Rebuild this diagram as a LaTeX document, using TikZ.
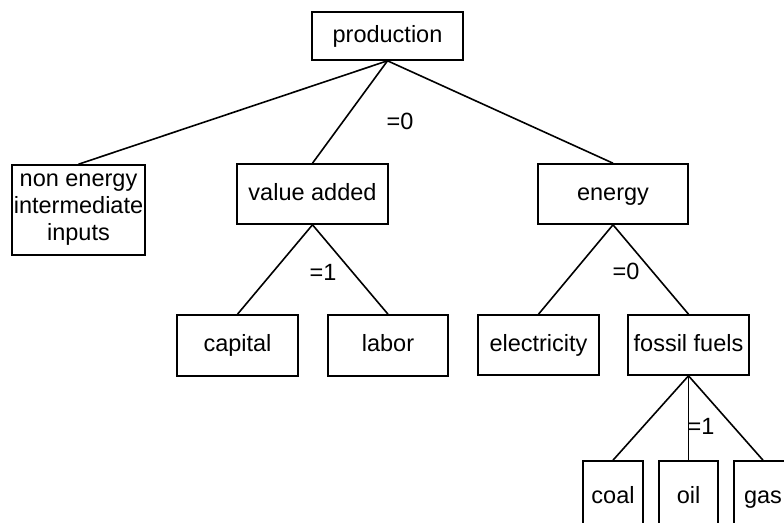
\documentclass[tikz,border=0pt]{standalone}
\usepackage{fontspec}
\setmainfont{Liberation Sans}

\begin{document}
\begin{tikzpicture}[x=1pt, y=-1pt]
        \tikzset{
            caixa/.style={
                draw,
                line width=1.6pt,
                minimum width=#1,
                minimum height=60pt,
                inner sep=2pt,
                text height=17pt,
                text depth=5pt,
                font=\fontsize{23.5}{27}\selectfont
            },
            rotulo/.style={
                inner sep=0pt,
                font=\fontsize{23.5}{27}\selectfont
            },
            ligacao/.style={
                line width=1.6pt
            }
        }
        \useasboundingbox (0,0) rectangle (784,522);
        \clip (0,0) rectangle (784,522);

        \node[caixa=151pt, minimum height=48pt] (prod) at (387.5,36) {production};

        \node[caixa=133pt, minimum height=90pt, text height=, text depth=, align=center] (nonen) at (78.5,210) {non energy\\intermediate\\inputs};
        \node[caixa=151pt] (va) at (312.5,194) {value added};
        \node[caixa=150pt] (en) at (613,194) {energy};

        \node[caixa=121pt, minimum height=61pt] (cap) at (237.5,345.5) {capital};
        \node[caixa=120pt, minimum height=61pt] (lab) at (388,345.5) {labor};
        \node[caixa=121pt] (ele) at (538.5,345) {electricity};
        \node[caixa=121pt] (fos) at (688.5,345) {fossil fuels};

        \node[caixa=60pt, minimum height=72pt] (coal) at (613,497) {coal};
        \node[caixa=59pt, minimum height=72pt] (oil) at (688.5,497) {oil};
        \node[caixa=58pt, minimum height=72pt] (gas) at (763,497) {gas};

        \draw[ligacao] (prod.south) -- (nonen.north);
        \draw[ligacao] (prod.south) -- (va.north);
        \draw[ligacao] (prod.south) -- (en.north);
        \draw[ligacao] (va.south) -- (cap.north);
        \draw[ligacao] (va.south) -- (lab.north);
        \draw[ligacao] (en.south) -- (ele.north);
        \draw[ligacao] (en.south) -- (fos.north);
        \draw[ligacao] (fos.south) -- (coal.north);
        \draw[ligacao] (fos.south) -- (oil.north);
        \draw[ligacao] (fos.south) -- (gas.north);

        \node[rotulo] (sprod) at (400,121) {=0}; %ELASTICIDADES
        \node[rotulo] (sva) at (323,272) {=1};
        \node[rotulo] (sen) at (626,271) {=0};
        \node[rotulo] (sfos) at (701,426) {=1};

    \end{tikzpicture}
\end{document}
